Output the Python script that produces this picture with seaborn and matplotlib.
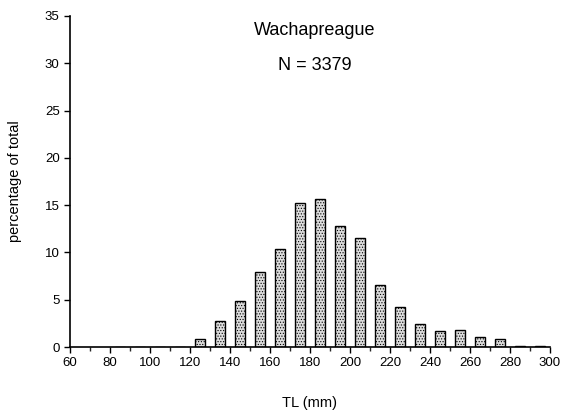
import matplotlib
matplotlib.use("Agg")
import matplotlib.pyplot as plt
import seaborn as sns
import pandas as pd
from matplotlib.ticker import MultipleLocator

length_mm = [85, 95, 105, 115, 125, 135, 145, 155, 165, 175, 185, 195, 205,
             215, 225, 235, 245, 255, 265, 275, 285, 295]
percent = [0.05, 0.02, 0.05, 0.03, 0.85, 2.7, 4.9, 7.9, 10.4, 15.25, 15.6, 12.8, 11.5,
           6.6, 4.2, 2.4, 1.65, 1.8, 1.05, 0.8, 0.15, 0.1]
x_ticks = [60, 80, 100, 120, 140, 160, 180, 200, 220, 240, 260, 280, 300]
y_ticks = [0, 5, 10, 15, 20, 25, 30, 35]

sns.set_style("ticks")
plt.rcParams['font.family'] = ['Liberation Sans', 'DejaVu Sans']
plt.rcParams['hatch.color'] = '#707070'
plt.rcParams['hatch.linewidth'] = 0.5
plt.rcParams['text.color'] = 'black'
plt.rcParams['axes.labelcolor'] = 'black'

df = pd.DataFrame({"TL": length_mm, "pct": percent})

fig = plt.figure(figsize=(5.7, 4.18), dpi=100)
ax = fig.add_axes([70/570, 1 - 347/418, 480/570, 331/418])

sns.barplot(data=df, x="TL", y="pct", native_scale=True, width=0.5,
            color="#dcdcdc", edgecolor="black", linewidth=1.0, saturation=1,
            hatch="......", ax=ax)

ax.set_xlim(60, 300)
ax.set_ylim(0, 35)
ax.set_xticks(x_ticks)
ax.xaxis.set_minor_locator(MultipleLocator(10))
ax.set_yticks(y_ticks)
ax.tick_params(axis="both", which="major", direction="out", length=4, width=1,
               labelsize=9.5, colors="black")
ax.tick_params(axis="x", which="minor", direction="out", length=3, width=1)
for s in ["top", "right"]:
    ax.spines[s].set_visible(False)
for s in ["left", "bottom"]:
    ax.spines[s].set_linewidth(1.2)
    ax.spines[s].set_color("black")

ax.set_xlabel("TL (mm)", fontsize=10.5, labelpad=19)
ax.set_ylabel("percentage of total", fontsize=10.5, labelpad=16)

ax.text(0.51, 0.955, "Wachapreague", transform=ax.transAxes, ha="center",
        va="center", fontsize=13)
ax.text(0.51, 0.85, "N = 3379", transform=ax.transAxes, ha="center",
        va="center", fontsize=13)

fig.savefig("out.png", dpi=100)
